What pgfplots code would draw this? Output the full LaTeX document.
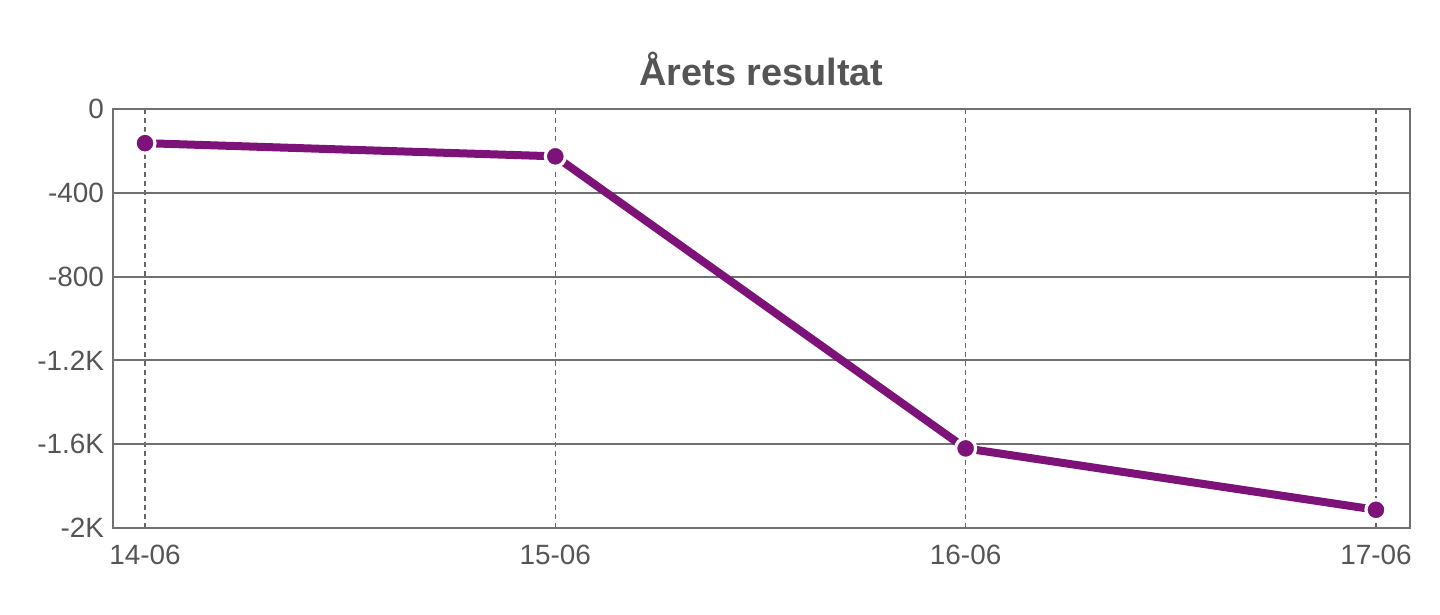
\documentclass[border=0pt]{standalone}
\usepackage{pgfplots}
\pgfplotsset{compat=1.18}
\usepackage{fontspec}
\setmainfont{Liberation Sans}
\definecolor{linepurple}{HTML}{7D1278}
\definecolor{gridgray}{HTML}{707070}
\definecolor{txtgray}{HTML}{555555}
\begin{document}
\begin{tikzpicture}
\useasboundingbox (-56.5bp,-43.5bp) rectangle (663.5bp,264bp);
\begin{axis}[
  scale only axis,
  width=648.5bp, height=209.5bp,
  xmin=-0.078, xmax=3.083,
  ymin=-2000, ymax=0,
  xtick={0,1,2,3},
  xticklabels={14-06,15-06,16-06,17-06},
  ytick={-2000,-1600,-1200,-800,-400,0},
  yticklabels={-2K,-1.6K,-1.2K,-800,-400,0},
  tick style={draw=none},
  axis line style={gridgray, line width=1bp},
  ymajorgrids, xmajorgrids,
  y grid style={gridgray, line width=1bp},
  x grid style={gridgray!90!black, line width=0.8bp, dash pattern=on 2.5bp off 2bp},
  ticklabel style={font=\fontsize{14}{16}\selectfont, text=txtgray},
  yticklabel style={xshift=-1bp},
  xticklabel style={yshift=-5bp},
  title={Årets resultat},
  title style={font=\bfseries\fontsize{19}{22}\selectfont, text=txtgray, yshift=2bp},
]
\addplot[linepurple, line width=4bp, mark=*,
  mark options={fill=linepurple, draw=white, line width=1.6bp, scale=1},
  mark size=5bp]
  coordinates {(0,-163) (1,-226) (2,-1620) (3,-1913)};
\end{axis}
\end{tikzpicture}
\end{document}
